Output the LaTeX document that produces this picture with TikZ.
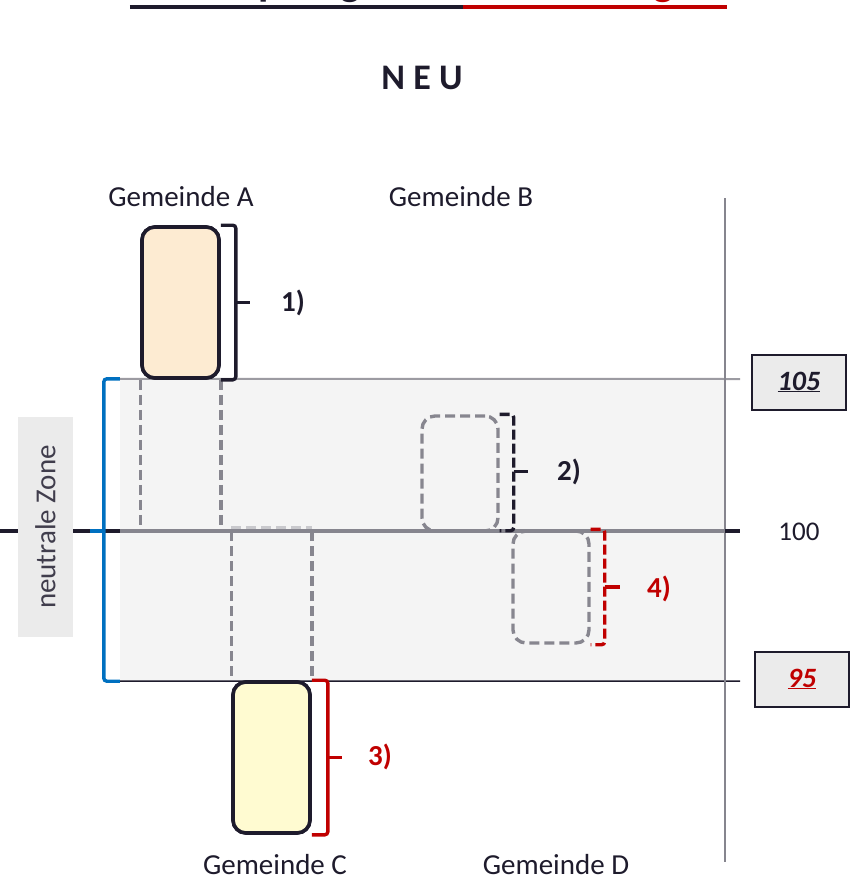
\documentclass[tikz,border=0pt]{standalone}
\usepackage{fontspec}
\setmainfont{Carlito}
\usetikzlibrary{calc}

\definecolor{ink}{HTML}{1E1B2C}
\definecolor{axisgray}{HTML}{86858E}
\definecolor{dashgray}{HTML}{87868F}
\definecolor{linegray}{HTML}{9C9BA2}
\definecolor{zonefill}{HTML}{F4F4F4}
\definecolor{labelfill}{HTML}{EBEBEB}
\definecolor{darkred}{HTML}{C00000}
\definecolor{zoneblue}{HTML}{0070C0}
\definecolor{peach}{HTML}{FDEBD2}
\definecolor{cream}{HTML}{FFFBD1}

\newcommand\gemfont{\fontsize{29}{34}\selectfont}
\newcommand\numfont{\fontsize{29}{34}\selectfont\bfseries}

\tikzset{
  gemtext/.style={text=ink, font=\gemfont, inner sep=0pt},
  solidbox/.style={draw=ink, line width=3.6pt, rounded corners=13pt, minimum width=77pt, minimum height=151pt, inner sep=0pt},
  ghostbox/.style={draw=dashgray, line width=3.4pt, dash pattern=on 10pt off 5pt, rounded corners=13pt, inner sep=0pt},
  dashline/.style={draw=dashgray, line width=3.4pt, dash pattern=on 10pt off 5pt},
  bracket/.style={line width=3.4pt, rounded corners=3pt},
  bracketdash/.style={bracket, dash pattern=on 10pt off 4pt},
  bracktip/.style={line width=3.4pt},
  numlabel/.style={font=\numfont, inner sep=0pt},
  valbox/.style={draw=ink, line width=2pt, fill=labelfill, minimum width=94pt, minimum height=55pt, inner sep=0pt},
}

\begin{document}
\begin{tikzpicture}[x=1pt, y=-1pt]
\useasboundingbox (0,0) rectangle (852,881);

% heading, cut by the top edge of the page
\node[anchor=base east, inner sep=0pt, text=ink, font=\fontsize{42.5}{50}\selectfont\bfseries] (tleft) at (463,-5) {Abschöpfung 105 /\ };
\node[anchor=base west, inner sep=0pt, text=darkred, font=\fontsize{42.5}{50}\selectfont\bfseries] (tright) at (tleft.base east) {Ausstattung 95};
\draw[ink, line width=3.5pt] ($(tleft.base west)+(0,12)$) -- ($(tleft.base east)+(0,12)$);
\draw[darkred, line width=3.5pt] ($(tright.base west)+(0,12)$) -- ($(tright.base east)+(0,12)$);

\node[text=ink, font=\fontsize{36}{42}\selectfont\bfseries, inner sep=0pt] (neu) at (422,78) {N E U};

% neutral zone band
\node[fill=zonefill, minimum width=605pt, minimum height=302pt, inner sep=0pt] (zone) at (422.5,530) {};
\coordinate (zTR) at (740,379);
\coordinate (zBR) at (740,681);
\draw[linegray, line width=2pt] (zone.north west) -- (zTR);
\draw[ink, line width=1.5pt] (zone.south west) -- (zBR);

% vertical scale line
\coordinate (vtop) at (725,198);
\coordinate (vbot) at (725,862);
\draw[axisgray, line width=1.5pt] (vtop) -- (vbot);

% communities above / below the threshold
\node[solidbox, fill=peach] (gemA) at (180.5,302.5) {};
\node[solidbox, fill=cream] (gemC) at (271.5,757.5) {};
\node[ghostbox, minimum width=76pt, minimum height=115pt] (gemB) at (460,473.5) {};
\node[ghostbox, minimum width=76pt, minimum height=112pt] (gemD) at (551,587) {};

% main axis at 100
\coordinate (axL) at (0,531);
\coordinate (axZ) at (120,531);
\coordinate (axV) at (725,531);
\coordinate (axR) at (740,531);

\draw[dashline] (gemA.south west) -- (gemA.south west |- axZ);
\draw[dashline] (gemA.south east) -- (gemA.south east |- axZ);
\draw[dashline, draw=dashgray!45] ($(gemC.north west |- axZ)+(0,-3)$) -- ($(gemC.north east |- axZ)+(0,-3)$);
\draw[dashline] (gemC.north west |- axZ) -- (gemC.north west);
\draw[dashline] (gemC.north east |- axZ) -- (gemC.north east);

\draw[ink, line width=4pt] (axL) -- (axZ);
\draw[axisgray, line width=4pt] (axZ) -- (axV);
\draw[ink, line width=4pt] (axV) -- (axR);

% redraw solid boxes on top
\node[solidbox, fill=peach] at (gemA) {};
\node[solidbox, fill=cream] at (gemC) {};

% brackets
\draw[bracket, ink] (gemA.north east) -- ++(15,0) -- ($(gemA.south east)+(15,0)$) -- (gemA.south east);
\draw[bracktip, ink] ($(gemA.east)+(15,0)$) -- ++(14,0);

\draw[bracket, darkred] (gemC.north east) -- ++(16,0) -- ($(gemC.south east)+(16,0)$) -- (gemC.south east);
\draw[bracktip, darkred] ($(gemC.east)+(16,0)$) -- ++(14,0);

\draw[bracketdash, ink] (gemB.north east) -- ++(14,0) -- ($(gemB.south east)+(14,-2)$) -- ($(gemB.south east)+(0,-2)$);
\draw[bracktip, ink] ($(gemB.east)+(14,-2)$) -- ++(14,0);

\draw[bracketdash, darkred] (gemD.north east) -- ++(14,0) -- ($(gemD.south east)+(14,0)$) -- (gemD.south east);
\draw[bracktip, darkred] ($(gemD.east)+(14,0)$) -- ++(15,0);

\draw[bracket, zoneblue] (zone.north west) -- ++(-16,0) -- ($(zone.south west)+(-16,0)$) -- (zone.south west);
\draw[bracktip, zoneblue] ($(zone.west)+(-16,1)$) -- ++(-14,0);

% bracket labels
\node[numlabel, text=ink] (n1) at (293,303) {1)};
\node[numlabel, text=ink] (n2) at (569,472) {2)};
\node[numlabel, text=darkred] (n3) at (380,757) {3)};
\node[numlabel, text=darkred] (n4) at (659,589) {4)};

% side label of the band
\node[fill=labelfill, rotate=90, minimum width=220pt, minimum height=55pt, inner sep=0pt, text=ink!85, font=\gemfont] (nz) at (45.5,527) {neutrale Zone};

% scale values
\node[valbox] (v105) at (799,382) {\fontsize{28}{32}\selectfont\bfseries\itshape\textcolor{ink}{\underline{105}}};
\node[valbox] (v95) at (802,679) {\fontsize{28}{32}\selectfont\bfseries\itshape\textcolor{darkred}{\underline{95}}};
\node[gemtext, font=\fontsize{27}{32}\selectfont] (v100) at (799,532) {100};

% community names
\node[gemtext] (nameA) at (181,197) {Gemeinde A};
\node[gemtext] (nameB) at (461,197) {Gemeinde B};
\node[gemtext] (nameC) at (275,865) {Gemeinde C};
\node[gemtext] (nameD) at (556,865) {Gemeinde D};
\end{tikzpicture}
\end{document}
